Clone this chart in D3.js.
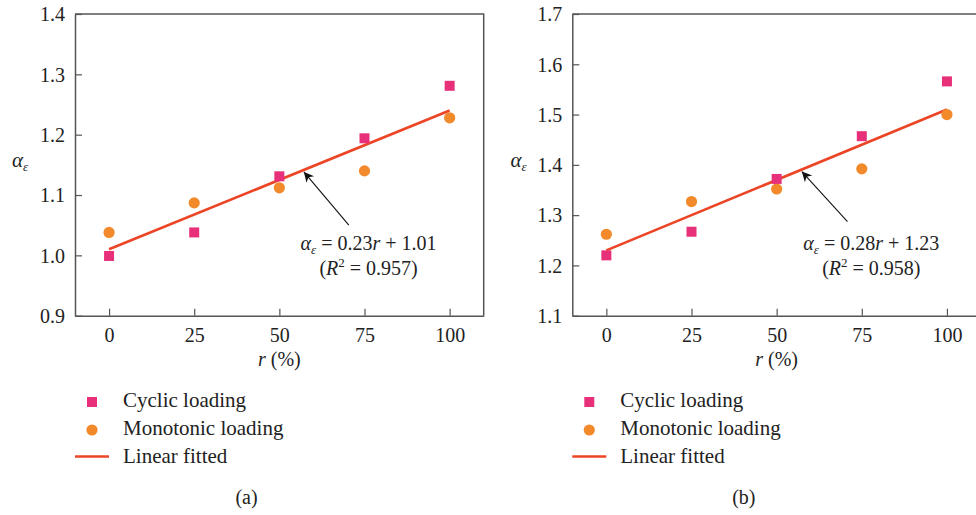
<!DOCTYPE html>
<html>
<head>
<meta charset="utf-8">
<script src="https://cdn.jsdelivr.net/npm/d3@7"></script>
<style>
  html, body { margin: 0; padding: 0; background: #ffffff; }
  svg { display: block; }
  text { font-family: "Liberation Serif", "Times New Roman", serif; fill: #222; }
</style>
</head>
<body>
<svg id="chart" width="976" height="515"></svg>
<script>
// Replacement ratio r (%) of the tested specimens
const rPercent = [0, 25, 50, 75, 100];
const xTicks = [0, 25, 50, 75, 100];

// Panel (a)
const cyclicA = [0.999, 1.038, 1.131, 1.194, 1.281];
const monotonicA = [1.038, 1.087, 1.112, 1.140, 1.228];
const fitA = [0.23, 1.01];          // slope, intercept (r as a fraction)
const r2A = "0.957";
const yTicksA = [0.9, 1.0, 1.1, 1.2, 1.3, 1.4];

// Panel (b)
const cyclicB = [1.220, 1.267, 1.372, 1.457, 1.566];
const monotonicB = [1.262, 1.327, 1.352, 1.392, 1.500];
const fitB = [0.28, 1.23];
const r2B = "0.958";
const yTicksB = [1.1, 1.2, 1.3, 1.4, 1.5, 1.6, 1.7];

const legendLabels = ["Cyclic loading", "Monotonic loading", "Linear fitted"];

const COLOR_CYCLIC = "#e8307a";
const COLOR_MONO = "#f28a2c";
const COLOR_FIT = "#ec4526";
const COLOR_AXIS = "#555555";
const FONT = 20;
const FONT_LEGEND = 21;

const svg = d3.select("#chart");

svg.append("defs").append("marker")
  .attr("id", "arrowHead")
  .attr("viewBox", "0 0 10 10")
  .attr("refX", 10).attr("refY", 5)
  .attr("markerUnits", "userSpaceOnUse")
  .attr("markerWidth", 13).attr("markerHeight", 10)
  .attr("orient", "auto")
  .append("path").attr("d", "M0,0 L10,5 L0,10 L3,5 Z").attr("fill", "#111");

function drawPanel(cfg) {
  const g = svg.append("g");
  const x = d3.scaleLinear().domain([-10, 110]).range([cfg.left, cfg.left + 408.7]);
  const y = d3.scaleLinear().domain(cfg.yDomain).range([315.7, 14]);

  // frame: top and right edges
  g.append("path")
    .attr("d", `M${cfg.left},${y.range()[1]} H${x.range()[1]} V${y.range()[0]}`)
    .attr("fill", "none").attr("stroke", COLOR_AXIS).attr("stroke-width", 1.5);

  const yAxis = g.append("g")
    .attr("transform", `translate(${cfg.left},0)`)
    .call(d3.axisLeft(y).tickValues(cfg.yTicks).tickFormat(d3.format(".1f"))
      .tickSizeInner(-7).tickSizeOuter(0).tickPadding(10));
  const xAxis = g.append("g")
    .attr("transform", `translate(0,${y.range()[0]})`)
    .call(d3.axisBottom(x).tickValues(xTicks).tickFormat(d3.format("d"))
      .tickSizeInner(-7).tickSizeOuter(0).tickPadding(12));
  [yAxis, xAxis].forEach(a => {
    a.selectAll(".domain").attr("stroke", COLOR_AXIS).attr("stroke-width", 1.5);
    a.selectAll(".tick line").attr("stroke", COLOR_AXIS).attr("stroke-width", 1.2);
    a.selectAll("text").attr("font-size", FONT).attr("font-family", "Liberation Serif").attr("fill", "#222");
  });
  yAxis.selectAll("text").attr("dy", "0.34em");

  // axis titles
  const yl = g.append("text")
    .attr("x", cfg.yLabelX).attr("y", 167).attr("font-size", 21);
  yl.append("tspan").attr("font-style", "italic").text("α");
  yl.append("tspan").attr("font-style", "italic").attr("font-size", 13).attr("dy", 4).text("ε");

  const xl = g.append("text")
    .attr("x", x(50)).attr("y", 366).attr("text-anchor", "middle").attr("font-size", FONT);
  xl.append("tspan").attr("font-style", "italic").text("r");
  xl.append("tspan").text(" (%)");

  // fitted line
  const fit = r => cfg.fit[1] + cfg.fit[0] * r / 100;
  g.append("line")
    .attr("x1", x(0)).attr("y1", y(fit(0)))
    .attr("x2", x(100)).attr("y2", y(fit(100)))
    .attr("stroke", COLOR_FIT).attr("stroke-width", 2.6);

  // monotonic loading points
  g.selectAll(".mono").data(cfg.mono).join("circle")
    .attr("cx", (d, i) => x(rPercent[i])).attr("cy", d => y(d))
    .attr("r", 5.6).attr("fill", COLOR_MONO);

  // cyclic loading points
  g.selectAll(".cyc").data(cfg.cyclic).join("rect")
    .attr("x", (d, i) => x(rPercent[i]) - 5).attr("y", d => y(d) - 5)
    .attr("width", 10).attr("height", 10).attr("fill", COLOR_CYCLIC);

  // annotation arrow pointing at the fitted line
  g.append("line")
    .attr("x1", x(cfg.arrowTail[0])).attr("y1", y(cfg.arrowTail[1]))
    .attr("x2", x(cfg.arrowHead)).attr("y2", y(fit(cfg.arrowHead)) + 2)
    .attr("stroke", "#111").attr("stroke-width", 1.1)
    .attr("marker-end", "url(#arrowHead)");

  const eqX = x(cfg.eqAt[0]);
  const eq = g.append("text").attr("x", eqX).attr("y", 250)
    .attr("text-anchor", "middle").attr("font-size", FONT);
  eq.append("tspan").attr("font-style", "italic").text("α");
  eq.append("tspan").attr("font-style", "italic").attr("font-size", 13).attr("dy", 4).text("ε");
  eq.append("tspan").attr("dy", -4).text(` = ${cfg.fit[0].toFixed(2)}`);
  eq.append("tspan").attr("font-style", "italic").text("r");
  eq.append("tspan").text(` + ${cfg.fit[1].toFixed(2)}`);

  const r2 = g.append("text").attr("x", eqX).attr("y", 275)
    .attr("text-anchor", "middle").attr("font-size", FONT);
  r2.append("tspan").text("(");
  r2.append("tspan").attr("font-style", "italic").text("R");
  r2.append("tspan").attr("font-size", 13).attr("dy", -8).text("2");
  r2.append("tspan").attr("dy", 8).text(` = ${cfg.r2})`);

  // legend
  const lx = cfg.left + 17, ly = 402, step = 28;
  const lg = g.append("g");
  lg.append("rect").attr("x", lx - 5).attr("y", ly - 5).attr("width", 10).attr("height", 10).attr("fill", COLOR_CYCLIC);
  lg.append("circle").attr("cx", lx).attr("cy", ly + step).attr("r", 5.6).attr("fill", COLOR_MONO);
  lg.append("line").attr("x1", lx - 17).attr("x2", lx + 17)
    .attr("y1", ly + 2 * step - 1.5).attr("y2", ly + 2 * step - 1.5)
    .attr("stroke", COLOR_FIT).attr("stroke-width", 2.6);
  lg.selectAll("text.lab").data(legendLabels).join("text")
    .attr("x", lx + 31).attr("y", (d, i) => ly + 5 + i * step)
    .attr("font-size", FONT_LEGEND).text(d => d);

  g.append("text").attr("x", cfg.left + 171.5).attr("y", 504)
    .attr("text-anchor", "middle").attr("font-size", FONT).text(cfg.caption);
}

drawPanel({
  left: 75, yDomain: [0.9, 1.4], yTicks: yTicksA, cyclic: cyclicA, mono: monotonicA,
  fit: fitA, r2: r2A, arrowHead: 57.2, arrowTail: [70.4, 1.05], eqAt: [76.2],
  yLabelX: 12, caption: "(a)"
});
drawPanel({
  left: 572.3, yDomain: [1.1, 1.7], yTicks: yTicksB, cyclic: cyclicB, mono: monotonicB,
  fit: fitB, r2: r2B, arrowHead: 57.4, arrowTail: [70.8, 1.287], eqAt: [77.8],
  yLabelX: 510.5, caption: "(b)"
});
</script>
</body>
</html>
